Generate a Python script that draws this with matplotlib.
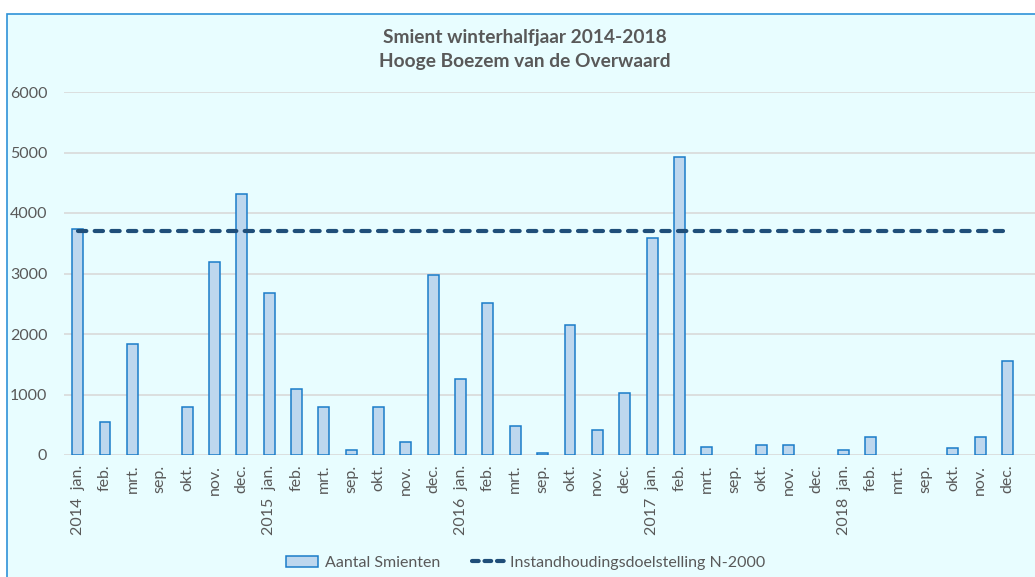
import matplotlib.pyplot as plt
from matplotlib.patches import Rectangle, Patch
from matplotlib.lines import Line2D

plt.rcParams['font.family'] = ['Lato', 'DejaVu Sans']

# data
months = ['jan.', 'feb.', 'mrt.', 'sep.', 'okt.', 'nov.', 'dec.']
years = ['2014', '2015', '2016', '2017', '2018']
counts_2014 = [3730, 550, 1830, 0, 800, 3190, 4310]
counts_2015 = [2680, 1090, 800, 90, 800, 210, 2980]
counts_2016 = [1260, 2520, 475, 25, 2150, 410, 1030]
counts_2017 = [3580, 4930, 135, 0, 160, 160, 0]
counts_2018 = [90, 300, 0, 0, 120, 300, 1555]
target = 3700  # Instandhoudingsdoelstelling N-2000

counts = counts_2014 + counts_2015 + counts_2016 + counts_2017 + counts_2018
labels = []
for y in years:
    for m in months:
        labels.append(f'{y}  {m}' if m == 'jan.' else m)
x = list(range(len(counts)))

text_col = '#595959'
bg_col = '#E8FDFF'
bar_fill = '#BDD7EE'
bar_edge = '#1A7CC9'

fig = plt.figure(figsize=(10.35, 5.77), dpi=100)
fig.patch.set_facecolor('white')

# light cyan chart area with blue frame (cropped at right/bottom)
frame = Rectangle((7 / 1035, -0.05), 1.1, 1 - 14 / 577 + 0.05,
                  transform=fig.transFigure, facecolor=bg_col,
                  edgecolor='#2E92D8', linewidth=1.2, zorder=-1)
fig.patches.append(frame)

ax = fig.add_axes([64 / 1035, 1 - 455 / 577, (1035 - 64) / 1035, (455 - 92) / 577])
ax.set_facecolor('none')

# empty months get no outline
edges = [bar_edge if c > 0 else 'none' for c in counts]
ax.bar(x, counts, width=0.4, color=bar_fill, edgecolor=edges,
       linewidth=1.1, zorder=3)
ax.plot([x[0], x[-1]], [target, target], color='#1F4E79', linewidth=3.0,
        dashes=(2.0, 2.0), dash_capstyle='round', zorder=4)

ax.set_xlim(-0.5, len(counts))
ax.set_ylim(0, 6000)
ax.set_yticks(range(0, 6001, 1000))
ax.grid(axis='y', color='#D9D9D9', linewidth=1.2, zorder=0)
for s in ax.spines.values():
    s.set_visible(False)
ax.tick_params(length=0, labelcolor=text_col, labelsize=11.5)
ax.tick_params(axis='y', pad=12)
ax.set_xticks(x)
ax.set_xticklabels(labels, rotation=90, va='top', ha='center')
ax.tick_params(axis='x', pad=7)

fig.text(0.507, 1 - 37 / 577, 'Smient winterhalfjaar 2014-2018', ha='center',
         va='center', fontsize=13.8, fontweight='bold', color=text_col)
fig.text(0.507, 1 - 61 / 577, 'Hooge Boezem van de Overwaard', ha='center',
         va='center', fontsize=13.8, fontweight='bold', color=text_col)

handles = [
    Patch(facecolor=bar_fill, edgecolor=bar_edge, linewidth=1.1),
    Line2D([0], [0], color='#1F4E79', linewidth=3.0, dashes=(1.6, 1.4),
           dash_capstyle='round'),
]
fig.legend(handles, ['Aantal Smienten', 'Instandhoudingsdoelstelling N-2000'],
           loc='center', bbox_to_anchor=(0.508, 1 - 563 / 577), ncol=2,
           frameon=False, fontsize=11.5, handlelength=2.0, handletextpad=0.4,
           columnspacing=2.0, labelcolor=text_col)

fig.savefig('out.png', dpi=100, facecolor=fig.get_facecolor())
